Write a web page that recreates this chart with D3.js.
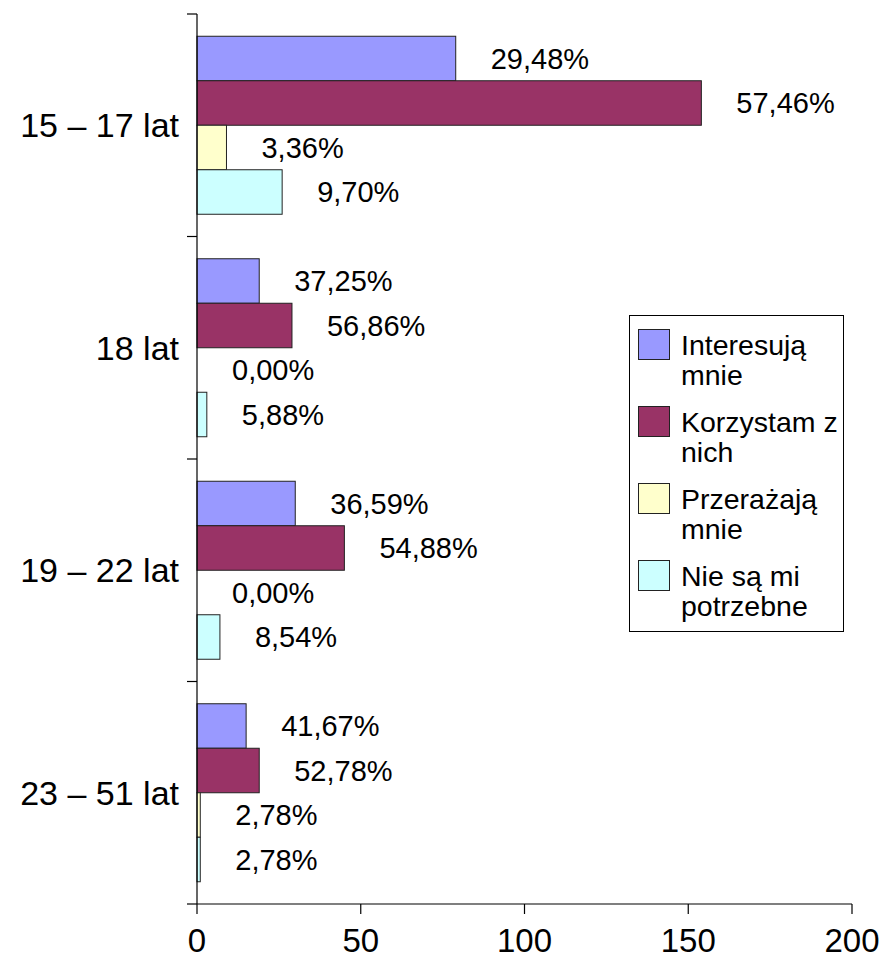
<!DOCTYPE html>
<html>
<head>
<meta charset="utf-8">
<script src="https://cdn.jsdelivr.net/npm/d3@7"></script>
<style>
  html, body { margin: 0; padding: 0; background: #fff; }
  svg { display: block; font-family: "Liberation Sans", Arial, sans-serif; }
</style>
</head>
<body>
<svg id="chart" width="887" height="959"></svg>
<script>
// ---- data ----
const categories = ["15 – 17 lat", "18 lat", "19 – 22 lat", "23 – 51 lat"];
const seriesNames = ["Interesują mnie", "Korzystam z nich", "Przerażają mnie", "Nie są mi potrzebne"];
const legendLines = [["Interesują", "mnie"], ["Korzystam z", "nich"], ["Przerażają", "mnie"], ["Nie są mi", "potrzebne"]];
const seriesColors = ["#9999FF", "#993366", "#FFFFCC", "#CCFFFF"];
// counts per category, one array per series (order follows categories)
const interesuja = [79, 19, 30, 15];
const korzystam  = [154, 29, 45, 19];
const przerazaja = [9, 0, 0, 1];
const nieSa      = [26, 3, 7, 1];
// percentage labels per series
const interesujaPct = ["29,48%", "37,25%", "36,59%", "41,67%"];
const korzystamPct  = ["57,46%", "56,86%", "54,88%", "52,78%"];
const przerazajaPct = ["3,36%", "0,00%", "0,00%", "2,78%"];
const nieSaPct      = ["9,70%", "5,88%", "8,54%", "2,78%"];
const xTicks = [0, 50, 100, 150, 200];

const seriesValues = [interesuja, korzystam, przerazaja, nieSa];
const seriesPct = [interesujaPct, korzystamPct, przerazajaPct, nieSaPct];

// ---- layout ----
const svg = d3.select("#chart");
const mLeft = 197, mRight = 852, mTop = 14, mBottom = 904;

const x = d3.scaleLinear().domain([0, 200]).range([mLeft, mRight]);
const y = d3.scaleBand().domain(categories).range([mTop, mBottom])
  .paddingInner(0.2).paddingOuter(0.1);
const ySub = d3.scaleBand().domain(d3.range(seriesNames.length)).range([0, y.bandwidth()]);
const step = y.step();

// bars
const groups = svg.append("g").selectAll("g")
  .data(categories).join("g")
  .attr("transform", c => `translate(0,${y(c)})`);

categories.forEach((c, ci) => {
  const g = groups.filter(d => d === c);
  seriesNames.forEach((s, si) => {
    const v = seriesValues[si][ci];
    if (v > 0) {
      g.append("rect")
        .attr("x", x(0))
        .attr("y", ySub(si))
        .attr("width", x(v) - x(0))
        .attr("height", ySub.bandwidth())
        .attr("fill", seriesColors[si])
        .attr("stroke", "#222")
        .attr("stroke-width", 1);
    }
    g.append("text")
      .attr("x", x(v) + 35)
      .attr("y", ySub(si) + ySub.bandwidth() / 2)
      .attr("dy", "0.36em")
      .attr("font-size", 29)
      .attr("fill", "#000")
      .text(seriesPct[si][ci]);
  });
});

// y axis
const yAxisG = svg.append("g");
yAxisG.append("line").attr("x1", mLeft).attr("x2", mLeft).attr("y1", mTop).attr("y2", mBottom)
  .attr("stroke", "#000").attr("stroke-width", 1.2);
d3.range(categories.length + 1).forEach(i => {
  const yy = mTop + i * step;
  yAxisG.append("line").attr("x1", mLeft - 10).attr("x2", mLeft).attr("y1", yy).attr("y2", yy)
    .attr("stroke", "#000").attr("stroke-width", 1.2);
});
yAxisG.selectAll("text.cat").data(categories).join("text")
  .attr("class", "cat")
  .attr("x", mLeft - 18)
  .attr("y", c => y(c) + y.bandwidth() / 2)
  .attr("dy", "0.36em")
  .attr("text-anchor", "end")
  .attr("font-size", 34)
  .text(c => c);

// x axis
const xAxisG = svg.append("g");
xAxisG.append("line").attr("x1", mLeft).attr("x2", mRight).attr("y1", mBottom).attr("y2", mBottom)
  .attr("stroke", "#000").attr("stroke-width", 1.2);
xAxisG.selectAll("line.tick").data(xTicks).join("line")
  .attr("class", "tick")
  .attr("x1", d => x(d)).attr("x2", d => x(d))
  .attr("y1", mBottom).attr("y2", mBottom + 10)
  .attr("stroke", "#000").attr("stroke-width", 1.2);
xAxisG.selectAll("text").data(xTicks).join("text")
  .attr("x", d => x(d))
  .attr("y", 952)
  .attr("text-anchor", "middle")
  .attr("font-size", 33)
  .text(d => d);

// legend
const lg = svg.append("g");
lg.append("rect").attr("x", 629.5).attr("y", 315.5).attr("width", 214).attr("height", 316)
  .attr("fill", "#fff").attr("stroke", "#000").attr("stroke-width", 1);
seriesNames.forEach((s, i) => {
  const base = 329 + i * 77;
  lg.append("rect").attr("x", 638.5).attr("y", base + 0.5).attr("width", 31).attr("height", 30)
    .attr("fill", seriesColors[i]).attr("stroke", "#222").attr("stroke-width", 1);
  legendLines[i].forEach((line, li) => {
    lg.append("text")
      .attr("x", 681)
      .attr("y", base + 26 + li * 30)
      .attr("font-size", 28.5)
      .text(line);
  });
});
</script>
</body>
</html>
